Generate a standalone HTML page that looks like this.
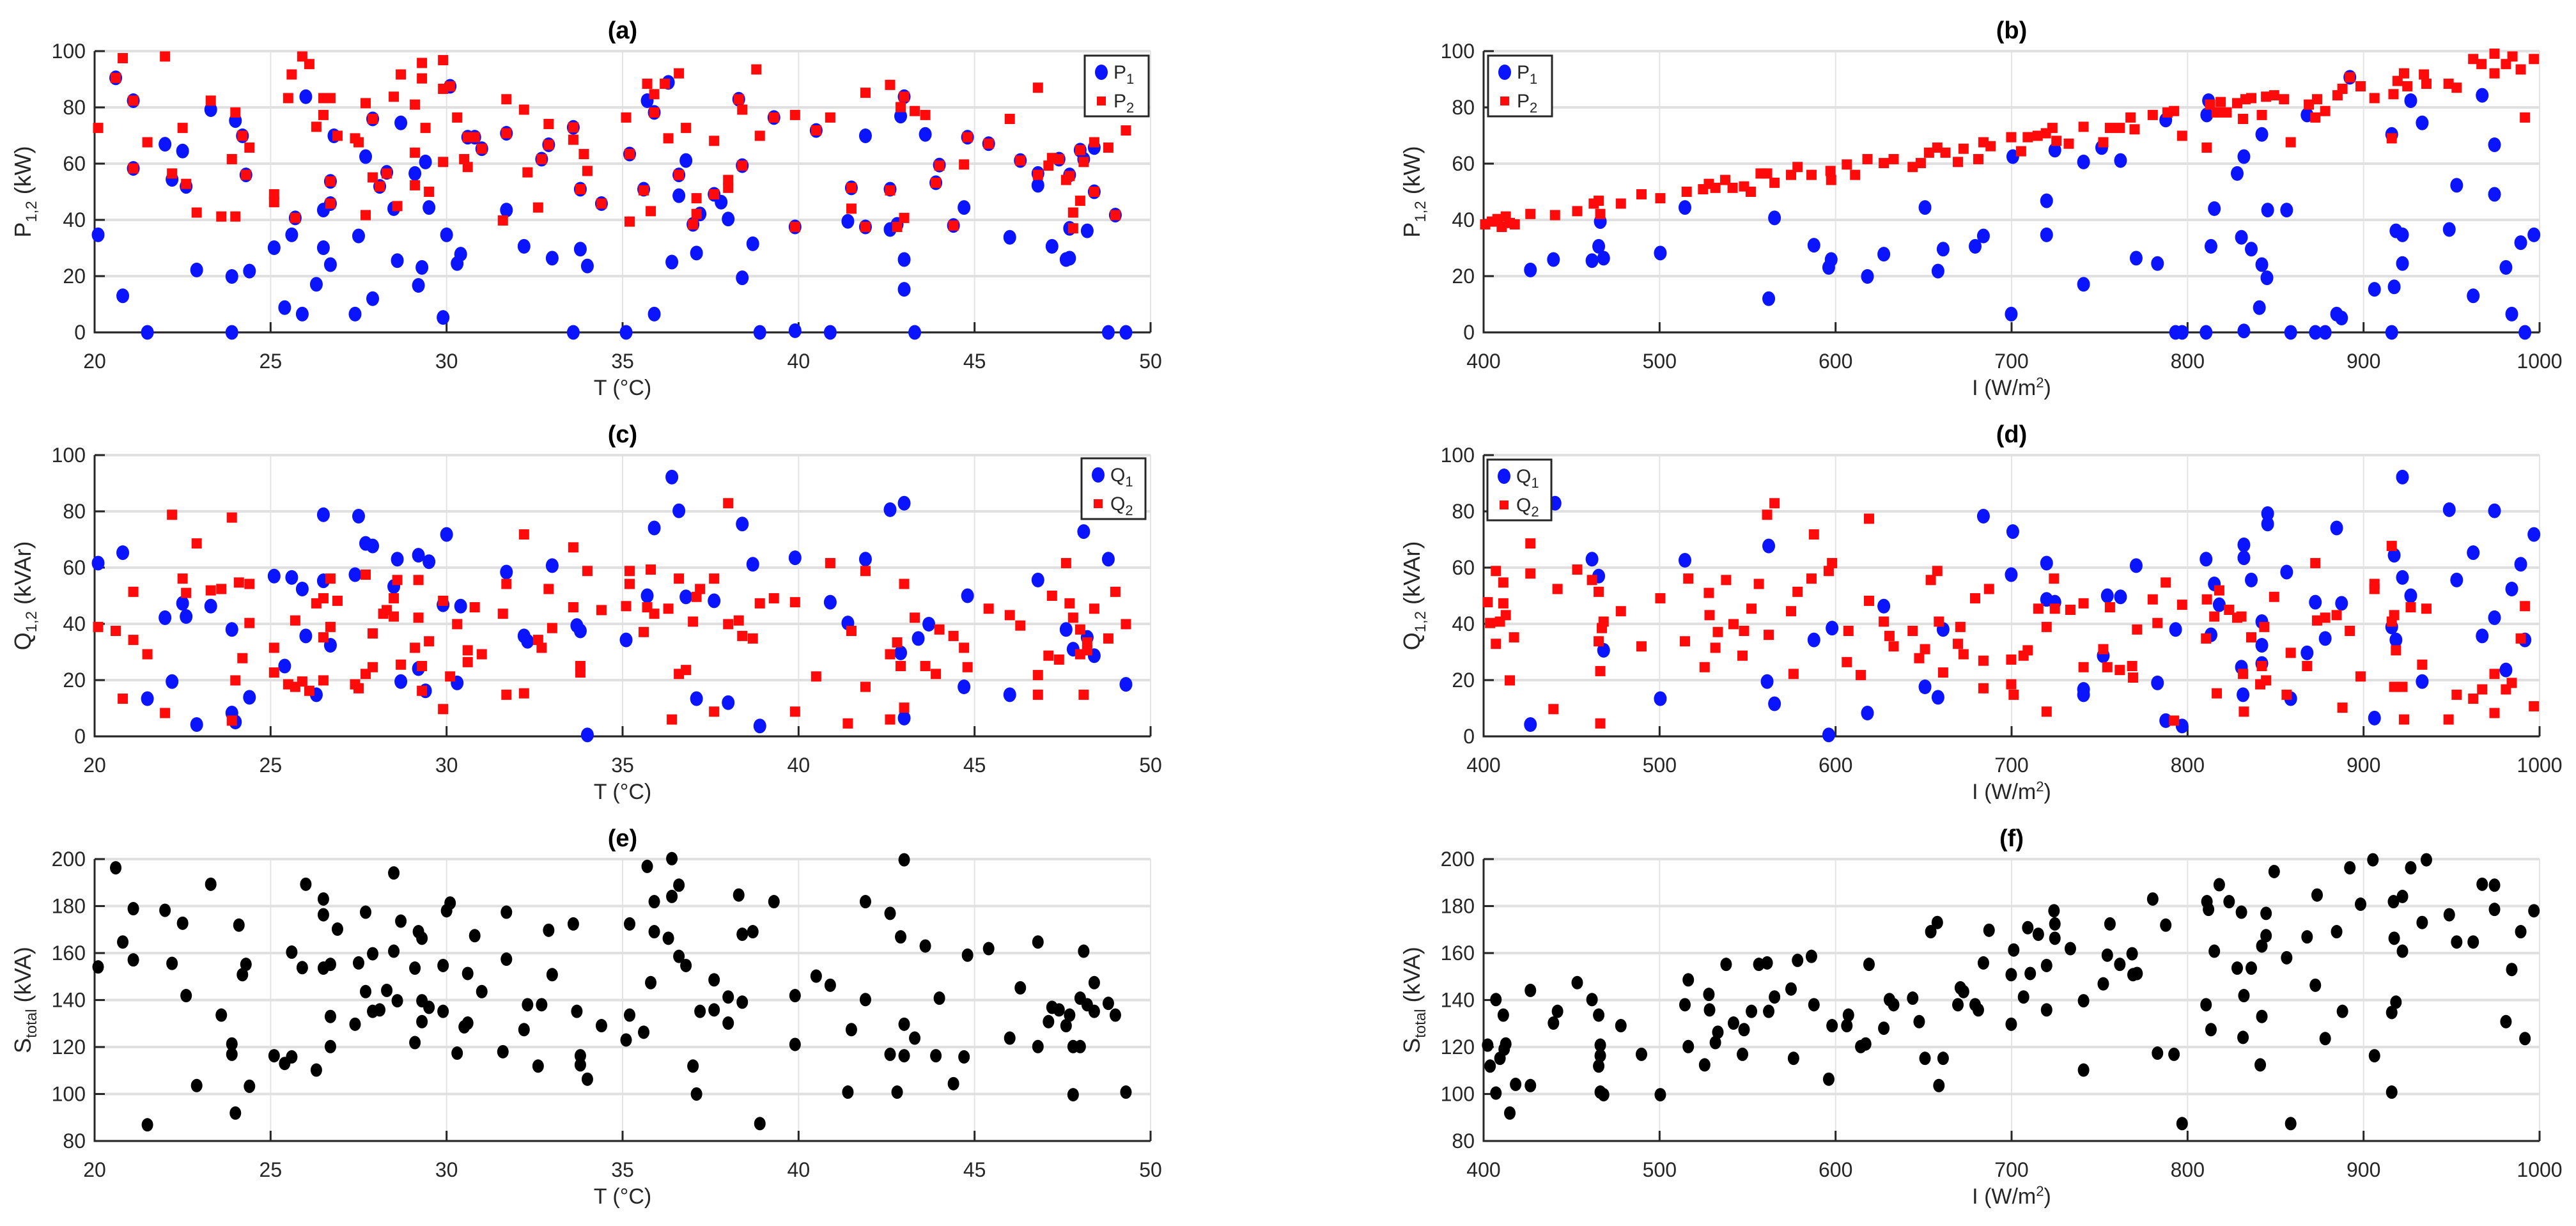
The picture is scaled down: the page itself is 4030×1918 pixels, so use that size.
<!DOCTYPE html>
<html><head><meta charset="utf-8"><style>
html,body{margin:0;padding:0;background:#fff}
svg{display:block;font-family:"Liberation Sans",Arial,sans-serif}
</style></head><body>
<svg id="fig" xmlns="http://www.w3.org/2000/svg" width="4030" height="1918" viewBox="0 0 4030 1918"></svg>
<script>
// ---------- DATA ----------
const aP1T=[20.1,20.6,20.8,21.1,21.1,21.5,22.0,22.2,22.5,22.6,22.9,23.3,23.9,23.9,24.0,24.2,24.3,24.4,25.1,25.4,25.6,25.7,25.9,26.0,26.3,26.5,26.5,26.7,26.7,26.7,26.8,27.4,27.5,27.7,27.9,27.9,28.1,28.3,28.5,28.6,28.7,29.1,29.2,29.3,29.4,29.5,29.9,30.0,30.1,30.3,30.4,30.6,30.8,31.0,31.7,31.7,32.2,32.7,32.9,33.0,33.6,33.6,33.8,34.0,33.8,34.4,35.1,35.2,35.6,35.7,35.9,35.9,36.3,36.4,36.6,36.6,36.8,37.0,37.1,37.2,37.6,37.8,38.0,38.3,38.4,38.4,38.7,38.9,39.3,39.9,39.9,40.5,40.9,41.4,41.5,41.9,41.9,42.6,42.6,42.8,42.9,43.0,43.0,43.0,43.3,43.6,43.9,44.0,44.4,44.7,44.8,45.4,46.0,46.3,46.8,46.8,47.2,47.4,47.6,47.7,47.7,47.7,48.0,48.1,48.2,48.4,48.4,48.8,49.0,49.3];
const aP1=[34.7,90.5,13,82.4,58.3,0,66.9,54.4,64.5,51.9,22.2,79.2,19.9,0,75.3,69.9,56,21.8,30.1,8.8,34.7,40.7,6.5,83.8,17.1,30.1,43.5,24.1,53.7,45.8,69.9,6.5,34.3,62.5,12,75.9,51.9,56.9,44,25.5,74.5,56.5,16.7,23.1,60.6,44.4,5.3,34.7,87.5,24.5,27.8,69.4,69.4,65.3,43.5,70.8,30.6,61.6,66.7,26.4,72.9,0,29.6,23.6,50.9,45.8,0,63.4,50.9,82.4,6.5,78.2,88.9,25,56,48.6,61.1,38.4,28.2,42.1,49.1,46.3,40.3,82.9,19.4,59.3,31.5,0,76.4,0.6,37.5,71.8,0,39.5,51.4,69.9,37.5,36.6,50.9,38.4,76.9,25.9,15.3,83.8,0,70.4,53.2,59.5,38,44.4,69.4,67.1,33.8,61.1,52.3,56.5,30.6,61.6,25.9,26.4,37,56,64.8,61.6,36.1,65.7,50,0,41.7,0];
const aP2T=[20.1,20.6,20.8,21.1,21.1,21.5,22.0,22.2,22.5,22.6,22.9,23.3,23.6,23.9,24.0,24.0,24.2,24.4,24.3,25.1,25.1,25.5,25.6,25.7,25.9,26.1,26.3,26.5,26.7,26.5,26.7,26.7,26.9,27.4,27.5,27.7,27.7,27.9,27.9,28.1,28.3,28.5,28.6,28.7,29.1,29.1,29.1,29.3,29.3,29.4,29.5,29.9,29.9,29.9,30.1,30.3,30.5,30.6,30.6,30.8,31.0,31.6,31.7,31.7,32.2,32.3,32.6,32.7,32.9,32.9,33.6,33.6,33.9,34.0,33.8,34.4,35.1,35.2,35.2,35.6,35.7,35.9,35.9,35.8,36.2,36.3,36.6,36.6,36.8,37.0,37.1,37.1,37.6,37.6,38.0,38.0,38.3,38.4,38.4,38.8,38.9,39.3,39.9,39.9,40.5,40.9,41.5,41.5,41.9,41.9,42.6,42.6,42.8,42.9,43.0,43.0,43.3,43.6,44.0,43.9,44.4,44.7,44.8,45.4,46.0,46.3,46.8,46.8,47.1,47.2,47.4,47.6,47.7,47.8,47.8,48.0,48.0,48.1,48.4,48.4,48.8,49.0,49.3];
const aP2=[72.7,90.5,97.5,82.4,58.3,67.6,98.1,56.5,72.7,52.8,42.6,82.4,41.2,61.6,78.2,41.2,69.9,65.7,56,46.3,49.1,83.3,91.7,40.7,98.1,95.4,73.1,83.3,83.3,77.3,53.7,45.8,69.9,69,67.6,81.5,41.7,55.1,75.9,51.9,56.5,83.8,44.9,91.7,81,63.9,52.3,90.3,95.8,72.7,50,96.8,86.6,60.6,87.5,76.4,61.6,58.8,69.4,69.4,65.3,39.8,82.9,70.8,79.2,56.9,44.4,61.6,74.1,66.7,68.5,72.9,63.4,57.4,50.9,45.8,76.4,39.4,63.4,50.5,88.4,84.7,78.2,43.1,88.4,69,56,92.1,72.7,38.4,47.7,42.1,68.1,49.1,51.4,54.2,82.9,79.2,59.3,93.5,69.9,76.4,77.3,37.5,71.8,76.4,44,51.4,85.2,37.5,88,50.5,37.5,80.1,40.7,83.8,78.7,77.3,59.3,53.2,38,59.7,69.4,67.1,75.9,61.1,87,56,59.3,62,61.6,54.2,55.6,42.6,37,64.8,46.8,60.6,67.6,50,65.7,41.7,71.8];

const bP1I=[426.6,439.7,461.6,465.4,468.2,466.3,500.4,514.4,562.0,565.3,587.7,596.1,597.5,618.1,627.4,650.8,658.2,661.1,679.3,684.0,699.8,700.7,719.9,719.9,724.6,740.9,740.9,751.2,761.9,770.8,782.9,787.6,793.2,796.9,810.5,810.9,813.3,815.2,811.9,828.2,830.6,832.0,832.0,836.2,842.2,842.2,840.8,845.1,845.5,856.3,858.6,867.9,872.6,878.2,884.7,887.5,892.2,906.2,916.0,916.0,917.4,918.4,922.1,922.1,926.8,933.3,948.7,952.9,962.3,967.4,974.4,974.4,980.9,984.2,989.3,991.7,996.8];
const bP1=[22.2,25.9,25.5,30.6,26.4,39.4,28.2,44.4,12,40.7,31,23.1,25.9,19.9,27.8,44.4,21.8,29.6,30.6,34.3,6.5,62.5,46.8,34.7,64.8,60.6,17.1,65.7,61.1,26.4,24.5,75.5,0,0,0,77.3,30.6,44,82.4,56.5,33.8,62.5,0.5,29.6,70.4,24.1,8.8,19.4,43.5,43.5,0,77.3,0,0,6.5,5.1,90.7,15.3,0,70.4,16.2,36.1,34.7,24.5,82.4,74.5,36.6,52.3,13,84.3,66.7,49.1,23.1,6.5,31.9,0,34.7];
const bP2I=[400.9,404.7,407.9,410.3,412.6,414.9,417.7,426.6,440.6,453.2,462.6,465.4,466.3,478.0,489.7,500.4,515.4,524.7,528,531.7,537.3,541.5,548,551.8,557.4,561.1,565.3,574.7,578.4,586.3,597.1,597.5,606.4,611.1,618.1,627.4,633,643.8,648.4,653.1,657.8,662.4,669.5,672.7,681.1,684,688.1,699.8,705.4,709.2,714.8,719.5,723.2,725.5,732.5,740.9,752.1,755.9,761.5,767.6,769.9,780.2,788.6,792.3,796.9,810.9,812.8,816.5,818.8,822.2,828.2,831.5,832.9,836.2,842.2,844.6,849.2,854.8,858.6,868.9,872.6,873.6,878.2,885.2,888,892.2,898.3,906.2,916,917,919.3,923,924.9,934.3,935.7,948.3,952.9,962.3,967,974.4,974.4,980.9,984.6,989.3,991.7,996.8];
const bP2=[38.4,39.4,40.3,37.5,41.2,38.9,38.4,42.1,41.7,43.1,45.8,46.8,42.1,45.8,49.1,47.7,50,50.9,52.8,51.4,54.2,51.4,51.9,50,56.5,56.5,53.2,56,58.8,56,57.4,54.2,59.7,56,61.6,60.2,61.6,58.8,60.2,63.9,65.7,63.9,60.6,65.3,61.6,67.6,66.2,69.4,64.4,69.4,69.9,70.8,72.7,68.1,67.1,73.1,67.6,72.7,72.7,76.4,72.2,77.3,78.2,78.7,69.9,65.7,81,78.2,81.9,78.2,81.5,75.9,82.9,83.3,77.3,83.8,84.3,82.9,67.6,81,76.4,82.9,78.7,84.3,86.6,90.7,87.5,83.3,69,84.7,89.4,92.1,87.5,91.7,88.4,88.4,87,97.2,95.4,99.1,92.1,95.4,98.1,93.5,76.4,97.2];

const cQ1T=[20.1,20.8,21.5,22.0,22.2,22.5,22.6,22.9,23.3,23.9,23.9,24.0,24.4,25.1,25.4,25.6,25.9,26.0,26.3,26.5,26.5,26.7,27.4,27.5,27.7,27.9,28.5,28.6,28.7,29.2,29.2,29.4,29.5,29.9,30.0,30.3,30.4,31.7,32.2,32.3,33.0,33.7,33.8,34.0,35.1,35.7,35.9,36.4,36.6,36.8,37.1,37.6,38.0,38.4,38.7,38.9,39.9,40.9,41.4,41.9,42.6,42.9,43.0,43.0,43.4,43.7,44.7,44.8,46.0,46.8,47.6,47.8,48.1,48.2,48.4,48.8,49.3];
const cQ1=[61.6,65.3,13.4,42.2,19.5,47.3,42.6,4.2,46.3,38,8.3,5.1,13.9,57,25,56.5,52.4,35.7,14.8,55.3,78.8,32.4,57.5,78.3,68.6,67.7,53.3,63,19.5,64.4,24.1,16.2,62.1,46.8,71.8,19,46.3,58.4,35.7,33.8,60.7,39.4,37.5,0.5,34.3,50,74.1,92.2,80.2,49.6,13.4,48.2,12,75.5,61.2,3.7,63.5,47.7,40.3,63,80.6,29.7,82.9,6.5,34.8,39.9,17.6,50,14.8,55.6,38,31,72.8,35.2,28.7,63,18.5];
const cQ2T=[20.1,20.6,20.8,21.1,21.1,21.5,22.0,22.2,22.5,22.6,22.9,23.3,23.6,23.9,23.9,24.0,24.1,24.2,24.4,24.4,25.1,25.1,25.5,25.7,25.7,25.9,26.1,26.3,26.5,26.5,26.5,26.7,26.7,26.9,27.4,27.5,27.7,27.7,27.9,27.9,28.2,28.3,28.5,28.5,28.6,28.7,29.1,29.2,29.2,29.3,29.3,29.5,29.9,29.9,30.1,30.3,30.6,30.6,30.8,31.0,31.6,31.7,31.7,32.2,32.2,32.6,32.7,32.9,33.0,33.6,33.6,33.8,33.8,34.0,34.4,35.1,35.2,35.2,35.6,35.7,35.8,35.9,36.3,36.4,36.6,36.6,36.8,37.0,37.1,37.2,37.6,37.6,38.0,38.0,38.3,38.4,38.7,38.9,39.3,39.9,39.9,40.5,40.9,41.4,41.5,41.9,41.9,42.6,42.6,42.8,42.9,43.0,43.0,43.3,43.6,43.9,44.0,44.4,44.7,44.8,45.4,46.0,46.3,46.8,46.8,47.1,47.2,47.4,47.6,47.7,47.8,48.0,48.0,48.1,48.2,48.2,48.4,48.8,49.0,49.3];
const cQ2=[38.9,37.5,13.4,51.4,34.3,29.2,8.3,78.8,56.1,51,68.6,51.9,52.4,77.8,5.6,19.9,54.7,27.8,54.2,40.3,22.7,31.5,18.5,41.2,17.6,19.5,16.2,47.3,35.2,49.1,19.9,56.1,38.9,48.2,18.5,17.1,57.5,22.2,36.6,24.6,43.6,44.9,42.6,49.1,55.6,25.5,31.5,42.2,55.6,16.2,25,33.8,48.2,9.7,21.3,39.9,30.6,26.4,45.9,29.2,43.6,14.8,54.2,71.8,15.3,34.3,31.5,52.4,38.5,67.2,45.9,25,22.7,58.8,44.9,46.3,58.8,54.2,37.1,45.9,59.3,43.6,45.4,6,56.1,22.2,23.6,40.8,49.6,52.4,56.1,8.8,39.9,82.9,41.2,35.7,34.8,47.3,49.1,8.8,47.7,21.3,61.6,4.6,37.5,58.8,17.6,29.2,6,33.4,25,10.2,54.2,42.2,25,22.2,38,35.7,31.5,24.6,45.4,43.1,39.4,21.8,14.8,28.7,50,27.3,61.6,47.3,42.2,29.2,38,14.8,33.4,30.6,45.4,34.8,51.4,39.9];

const dQ1I=[440.6,426.6,461.6,465.4,468.2,500.4,514.4,562,561.1,565.3,587.7,596.1,598,618.1,627.4,650.8,658.2,661.1,684,699.8,700.7,719.9,719.9,724.6,740.9,740.9,752.1,754.4,761.9,770.8,782.9,787.6,793.2,796.9,810.5,813.3,815.2,818,830.6,831.5,832,832,836.2,842.2,842.2,842.2,845.5,845.5,856.3,858.6,867.9,872.6,878.2,887.5,884.7,906.2,916,917.4,918.4,922.1,922.1,926.8,933.3,948.7,952.9,962.3,967.4,974.4,974.4,980.9,984.2,989.3,991.7,996.8];
const dQ1=[82.9,4.2,63,57,30.6,13.4,62.6,67.7,19.5,11.6,34.3,0.5,38.5,8.3,46.3,17.6,13.9,38,78.3,57.5,72.8,61.6,48.7,47.7,16.7,14.8,28.7,50,49.6,60.7,19,5.6,38,3.7,63,36.1,54.2,46.8,24.6,14.8,68.1,63.5,55.6,32.4,25.9,40.8,79.2,75.5,58.4,13.4,29.7,47.7,34.8,47.3,74.1,6.5,38.9,64.4,34.3,56.5,92.2,50,19.5,80.6,55.6,65.3,35.7,80.2,42.2,23.6,52.4,61.2,34.3,71.8];
const dQ2I=[402.3,403.7,407,407,409.3,411.2,411.2,412.6,414.9,417.3,426.6,426.6,439.7,442,453.2,461.6,465.4,466.3,466.3,465.4,467.2,468.2,478,489.7,500.4,514.4,516.3,525.6,528,528.4,531.7,533.1,537.8,542,547.1,548,552.2,556.4,561.1,562,565.3,574.7,576.1,578.4,586.3,587.7,596.1,598,606.4,607.3,614.3,619,619,627.4,630.6,633,643.8,647.5,650.8,654.1,657.8,658.7,661.1,669.5,670.9,672.7,679.3,684,684,687.2,699.8,699.8,701.2,706.8,709.2,715.2,719.9,719.9,724.1,724.6,733.4,740.9,740.9,752.1,754.4,755.9,761.5,768.5,769,771.3,780.2,782.9,787.6,792.3,796.9,810.5,811,815.2,816.6,818,823.6,828.2,830.6,831.5,832,836.2,841.3,842.2,843.6,844.6,849.2,856.3,858.6,867.9,872.6,873.6,878.2,884.7,888,892.2,898.3,906.2,906.2,916,916,917.4,918.4,917.4,922.1,923,926.8,933.3,935.7,948.3,952.9,962.3,967.4,974.4,974.4,980.9,984.2,989.3,991.7,996.8];
const dQ2=[47.7,40.3,58.8,32.9,40.8,54.7,47.3,43.1,19.9,35.2,57.9,68.6,9.7,52.4,59.3,55.6,51.4,23.2,4.6,33.8,38.5,40.8,44.5,32,49.1,33.8,56.1,24.6,51,43.1,31.5,37.1,55.6,39.9,28.7,37.5,45.4,54.2,78.8,36.1,82.9,44.5,22.2,51.4,56.1,71.8,58.8,61.6,26.4,37.5,21.8,48.2,77.4,40.8,35.7,32,37.5,27.8,31,55.6,58.8,40.8,22.7,32.9,38.9,29.2,49.1,17.1,26.9,52.4,27.3,18.5,14.8,28.7,30.6,45.4,38.9,8.8,56.1,45.4,45,47.3,24.6,31,24.6,45.9,23.6,25,20.9,38,48.7,40.3,54.7,5.6,46.8,34.8,48.7,42.6,15.3,51.9,45,42.2,42.6,22.2,8.8,35.2,18.5,25,38.9,19.9,49.6,14.8,29.7,25,61.6,41.2,42.2,43.1,10.2,37.5,21.3,54.2,52.4,67.7,40.8,43.1,30.6,17.6,17.6,6,45.9,25.5,45.4,6,14.8,13.4,16.7,22.2,8.3,16.7,19,34.8,46.3,10.7];

const eT=[20.1,20.6,20.8,21.1,21.1,21.5,22.0,22.2,22.5,22.6,22.9,23.3,23.6,23.9,23.9,24.0,24.1,24.2,24.3,24.4,25.1,25.4,25.6,25.6,25.9,26.0,26.3,26.5,26.5,26.5,26.7,26.7,26.7,26.9,27.4,27.5,27.7,27.7,27.9,27.9,28.1,28.3,28.5,28.5,28.6,28.7,29.1,29.1,29.2,29.3,29.3,29.3,29.5,29.9,29.9,30.0,30.1,30.3,30.5,30.6,30.6,30.8,31.0,31.6,31.7,31.7,32.2,32.3,32.6,32.7,32.9,33.0,33.6,33.7,33.8,33.8,34.0,34.4,35.1,35.2,35.2,35.6,35.7,35.8,35.9,35.9,36.3,36.4,36.4,36.6,36.6,36.8,37.0,37.1,37.2,37.6,37.6,38.0,38.0,38.3,38.4,38.4,38.7,38.9,39.3,39.9,39.9,40.5,40.9,41.4,41.5,41.9,41.9,42.6,42.6,42.8,42.9,43.0,43.0,43.0,43.3,43.6,43.9,44.0,44.4,44.7,44.8,45.4,46.0,46.3,46.8,46.8,47.1,47.2,47.4,47.6,47.7,47.8,47.8,48.0,48.0,48.1,48.2,48.4,48.4,48.8,49.0,49.3];
const eS=[154.1,196.3,164.7,178.9,157.1,86.9,178.2,155.6,172.7,141.9,103.6,189.3,133.6,121.3,116.9,91.9,171.9,150.8,155.2,103.3,116.3,113,115.8,160.4,153.8,189.3,110.2,183,176.3,153.6,155.2,133,120.2,170.2,129.7,155.8,177.4,143.6,159.7,135.2,135.8,144.1,160.8,194.1,139.7,173.6,153.6,121.9,169.1,166.3,130.8,139.7,136.9,135.2,154.7,178,181.3,117.4,128.6,130.2,151.3,167.4,143.6,118,177.4,157.4,127.4,138,111.9,138,169.7,150.8,172.4,135.2,116.3,112.4,106.3,129.1,123,172.4,133.6,126.3,196.9,147.4,181.9,169.1,166.3,200.2,184.1,158.6,188.9,154.7,111.9,100,135.2,148.6,135.8,130.2,141.3,184.7,139.1,168,169.1,87.4,181.9,141.9,121.1,150.2,146.3,100.8,127.4,181.9,140.2,176.9,116.9,100.8,166.9,129.7,116.3,199.7,123.8,163,116.3,140.8,104.4,115.8,159.1,161.9,123.8,145.2,164.7,120.2,130.8,136.9,135.8,129.1,133.6,99.7,120.2,120.2,140.8,160.8,138,135.2,147.4,138.6,133.6,100.8];

const fI=[402.3,403.7,407,407,409.3,411.2,411.7,412.6,414.9,418.2,426.6,426.6,439.7,442,453.2,461.6,465.4,466.3,466.3,465.4,466.3,468.2,478,489.7,500.4,514.4,516.3,516.3,525.6,528,528.4,531.7,533.1,537.8,542,547.1,548,552.2,556.4,561.1,562,565.3,574.7,576.1,578.4,586.3,587.7,596.1,598,606.4,607.3,614.3,617.1,619,627.4,630.6,633,643.8,647.5,650.8,654.1,657.8,658.7,661.1,669.5,670.9,672.7,679.3,681.1,684,687.2,699.8,699.8,701.2,706.8,709.2,710.6,715.2,719.9,719.9,724.1,724.6,724.6,733.4,740.9,740.9,752.1,754.4,755.9,761.5,768.5,769,771.3,780.2,782.9,787.6,792.3,796.9,810.5,811,811.9,813.3,815.2,818,823.6,828.2,830.6,831.5,832,836.2,841.3,842.2,842.2,844.6,844.6,849.2,856.3,858.6,867.9,872.6,873.6,878.2,884.7,888,892.2,898.3,905.3,906.2,916,916,917,917.4,918.4,922.1,922.1,926.8,933.3,935.7,948.7,952.9,962.3,967.4,974.4,974.4,980.9,984.2,989.3,991.7,996.8];
const fS=[120.8,111.9,140.2,100.4,115.2,133.6,119.1,121.3,91.9,104.1,144.1,103.6,130.2,135.2,147.4,140.2,133.6,120.8,116.3,111.9,100.8,99.7,129.1,116.9,99.7,138,148.6,120.2,112.4,142.4,135.8,121.9,126.3,155.2,130.2,116.9,127.4,135.2,155.2,155.8,135.2,141.3,144.7,115.2,156.9,158.6,138,106.3,129.1,129.1,133.6,120.2,121.3,155.2,128,140.2,138,140.8,130.8,115.2,169.1,173,103.6,115.2,138,145.2,143.6,138,135.8,155.8,169.7,129.7,150.8,161.3,141.3,170.8,151.3,168,154.7,135.8,178,172.4,166.3,161.9,139.7,110.2,146.9,159.1,172.4,155.2,159.7,150.8,151.3,183,117.4,171.9,116.9,87.4,138,181.9,178.6,127.4,160.8,189.1,181.9,153.6,177.4,124.1,141.9,153.6,112.4,133,163,176.9,167.4,194.7,158,87.4,166.9,146.3,184.7,123.6,169.1,135.2,196.3,180.8,199.7,116.3,134.7,100.8,181.9,166.3,139.1,184.1,160.8,196.3,173,199.7,176.3,164.7,164.7,189.3,188.9,178.6,130.8,153,169.1,123.6,178];

const tTicks=[20,25,30,35,40,45,50];
const iTicks=[400,500,600,700,800,900,1000];
const pqTicks=[0,20,40,60,80,100];
const sTicks=[80,100,120,140,160,180,200];

// ---------- DRAWING ----------
const NS='http://www.w3.org/2000/svg';
const svg=document.getElementById('fig');
function mk(tag,attrs,parent){const e=document.createElementNS(NS,tag);for(const k in attrs)e.setAttribute(k,attrs[k]);(parent||svg).appendChild(e);return e;}
function lin(d0,d1,p0,p1){return v=>p0+(v-d0)/(d1-d0)*(p1-p0);}

function panel(cfg){
  const g=mk('g',{});
  
  
  const xs=lin(cfg.xt[0],cfg.xt[cfg.xt.length-1],cfg.x0,cfg.x1);
  const ys=lin(cfg.yt[0],cfg.yt[cfg.yt.length-1],cfg.y0,cfg.y1);
  // grid
  cfg.xt.forEach(t=>{const l=mk('line',{x1:xs(t),x2:xs(t),y1:cfg.y0,y2:cfg.y1,stroke:'#e4e4e4','stroke-width':2},g);
    });
  cfg.yt.forEach(t=>{const l=mk('line',{x1:cfg.x0,x2:cfg.x1,y1:ys(t),y2:ys(t),stroke:'#e0e0e0','stroke-width':4},g);
    });
  // axes
  const ax=mk('path',{d:`M${cfg.x0},${cfg.y1} L${cfg.x0},${cfg.y0} L${cfg.x1},${cfg.y0}`,fill:'none',stroke:'#262626','stroke-width':3},g);
  
  cfg.xt.forEach(t=>{const l=mk('line',{x1:xs(t),x2:xs(t),y1:cfg.y0,y2:cfg.y0-16,stroke:'#262626','stroke-width':3},g);
    
    const tx=mk('text',{x:xs(t),y:cfg.y0+56,'font-size':32,'text-anchor':'middle',fill:'#262626'},g);tx.textContent=t;
    });
  cfg.yt.forEach(t=>{const l=mk('line',{x1:cfg.x0,x2:cfg.x0+16,y1:ys(t),y2:ys(t),stroke:'#262626','stroke-width':3},g);
    
    const tx=mk('text',{x:cfg.x0-14,y:ys(t)+11,'font-size':32,'text-anchor':'end',fill:'#262626'},g);tx.textContent=t;
    });
  // title
  const tt=mk('text',{x:(cfg.x0+cfg.x1)/2,y:cfg.y1-20,'font-size':38,'font-weight':'bold','text-anchor':'middle',fill:'#000'},g);
  tt.textContent=cfg.title;
  // x label
  const xl=mk('text',{x:(cfg.x0+cfg.x1)/2,y:cfg.y0+98,'font-size':34,'text-anchor':'middle',fill:'#262626'},g);
  xl.innerHTML=cfg.xlab;
  // y label
  const yc=(cfg.y0+cfg.y1)/2, yx=cfg.x0-cfg.ylabOff;
  const yl=mk('text',{x:yx,y:yc,'font-size':36,'text-anchor':'middle',fill:'#262626',transform:`rotate(-90 ${yx} ${yc})`},g);
  yl.innerHTML=cfg.ylab;
  // series
  cfg.series.forEach(s=>{
    const sg=mk('g',{},g);
    s.x.forEach((xv,i)=>{
      const px=xs(xv),py=ys(s.y[i]);let m;
      if(s.shape==='sq'){m=mk('rect',{x:px-8,y:py-8,width:16,height:16,fill:s.color},sg);}
      else{m=mk('ellipse',{cx:px,cy:py,rx:s.r||10,ry:(s.r||10)+1.5,fill:s.color},sg);}
      
    });
  });
  // legend
  if(cfg.legend){
    const L=cfg.legend;const lg=mk('g',{},g);
    const r=mk('rect',{x:L.x,y:L.y,width:100,height:95,fill:'#fff',stroke:'#262626','stroke-width':3},lg);
    
    L.items.forEach((it,k)=>{
      const cy=L.y+26+k*45;
      const e=it.shape==='sq'?mk('rect',{x:L.x+19,y:cy-7,width:14,height:14,fill:it.color},lg):mk('ellipse',{cx:L.x+26,cy:cy,rx:10,ry:12,fill:it.color},lg);
      
      const t=mk('text',{x:L.x+45,y:cy+10,'font-size':30,fill:'#262626'},lg);t.innerHTML=it.label;
      
    });
  }
}
const BLUE='#0a14ff',RED='#ff0a0a';
const sub=(b,s)=>`${b}<tspan font-size="22" dy="8">${s}</tspan>`;
const Tlab='T (°C)', Ilab='I  (W/m<tspan font-size="22" dy="-12">2</tspan><tspan dy="12">)</tspan>';
const PY='P<tspan font-size="24" dy="9">1,2</tspan><tspan dy="-9">  (kW)</tspan>';
const QY='Q<tspan font-size="24" dy="9">1,2</tspan><tspan dy="-9">  (kVAr)</tspan>';
const SY='S<tspan font-size="24" dy="9">total</tspan><tspan dy="-9">  (kVA)</tspan>';
const LX0=148,LX1=1800,RX0=2321,RX1=3973;

panel({name:'panel-a',title:'(a)',x0:LX0,x1:LX1,y0:520,y1:80,xt:tTicks,yt:pqTicks,xlab:Tlab,ylab:PY,ylabOff:100,
  series:[{name:'series-p1',pt:'p1-point',x:aP1T,y:aP1,color:BLUE},{name:'series-p2',pt:'p2-point',x:aP2T,y:aP2,color:RED,shape:'sq'}],
  legend:{x:1697,y:87,items:[{color:BLUE,label:sub('P','1')},{color:RED,shape:'sq',label:sub('P','2')}]}});
panel({name:'panel-b',title:'(b)',x0:RX0,x1:RX1,y0:520,y1:80,xt:iTicks,yt:pqTicks,xlab:Ilab,ylab:PY,ylabOff:100,
  series:[{name:'series-p1',pt:'p1-point',x:bP1I,y:bP1,color:BLUE},{name:'series-p2',pt:'p2-point',x:bP2I,y:bP2,color:RED,shape:'sq'}],
  legend:{x:2328,y:87,items:[{color:BLUE,label:sub('P','1')},{color:RED,shape:'sq',label:sub('P','2')}]}});
panel({name:'panel-c',title:'(c)',x0:LX0,x1:LX1,y0:1152,y1:712,xt:tTicks,yt:pqTicks,xlab:Tlab,ylab:QY,ylabOff:100,
  series:[{name:'series-q1',pt:'q1-point',x:cQ1T,y:cQ1,color:BLUE},{name:'series-q2',pt:'q2-point',x:cQ2T,y:cQ2,color:RED,shape:'sq'}],
  legend:{x:1692,y:717,items:[{color:BLUE,label:sub('Q','1')},{color:RED,shape:'sq',label:sub('Q','2')}]}});
panel({name:'panel-d',title:'(d)',x0:RX0,x1:RX1,y0:1152,y1:712,xt:iTicks,yt:pqTicks,xlab:Ilab,ylab:QY,ylabOff:100,
  series:[{name:'series-q1',pt:'q1-point',x:dQ1I,y:dQ1,color:BLUE},{name:'series-q2',pt:'q2-point',x:dQ2I,y:dQ2,color:RED,shape:'sq'}],
  legend:{x:2327,y:719,items:[{color:BLUE,label:sub('Q','1')},{color:RED,shape:'sq',label:sub('Q','2')}]}});
panel({name:'panel-e',title:'(e)',x0:LX0,x1:LX1,y0:1785,y1:1344,xt:tTicks,yt:sTicks,xlab:Tlab,ylab:SY,ylabOff:100,
  series:[{name:'series-stotal',pt:'s-point',x:eT,y:eS,color:'#000',r:9}]});
panel({name:'panel-f',title:'(f)',x0:RX0,x1:RX1,y0:1785,y1:1344,xt:iTicks,yt:sTicks,xlab:Ilab,ylab:SY,ylabOff:100,
  series:[{name:'series-stotal',pt:'s-point',x:fI,y:fS,color:'#000',r:9}]});
</script>
</body></html>
